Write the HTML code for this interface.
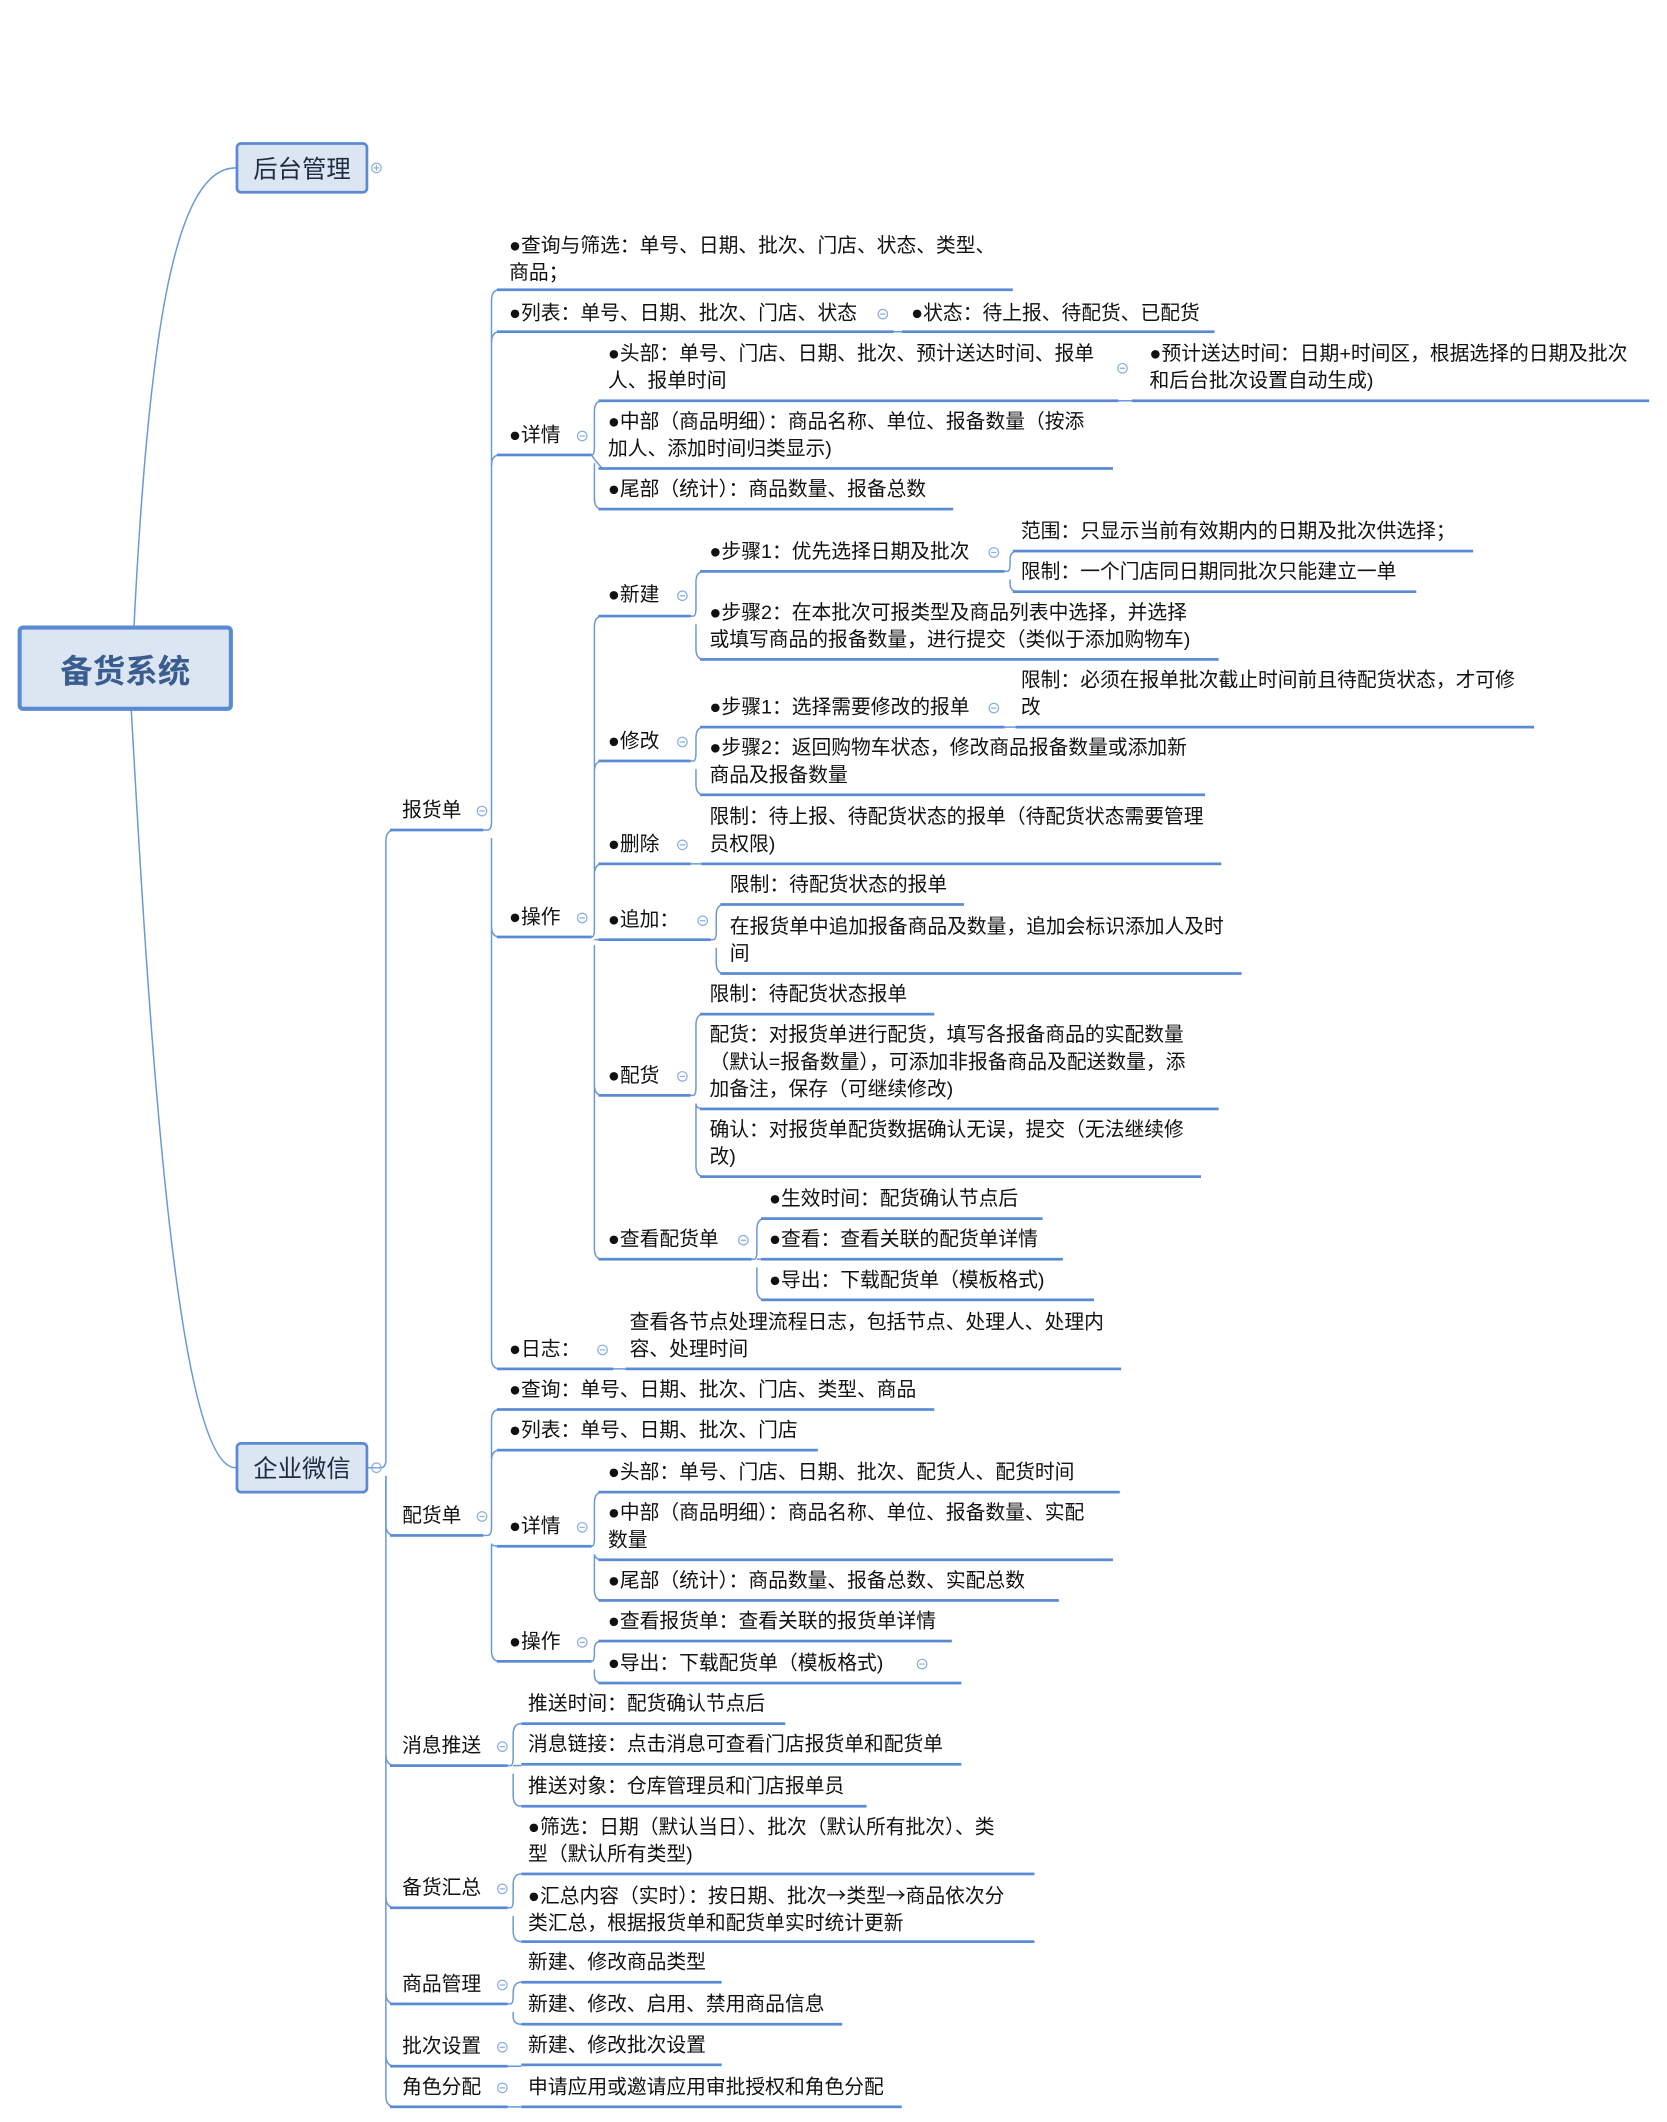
<!DOCTYPE html>
<html><head><meta charset="utf-8">
<style>
html,body{margin:0;padding:0;background:#fff;}
body{width:1667px;height:2121px;overflow:hidden;position:relative;}
#w{position:absolute;left:0;top:0;width:1231px;height:1567px;transform:scale(1.354);transform-origin:0 0;}
.t{position:absolute;white-space:nowrap;font-family:"Liberation Sans","Noto Sans CJK SC",sans-serif;font-size:14.6px;line-height:20px;color:#111;}
.u{position:absolute;height:2px;background:#5b8ad4;}
.b{position:absolute;background:#dce6f2;border:2px solid #5b8ad4;border-radius:4px;box-sizing:border-box;font-family:"Liberation Sans","Noto Sans CJK SC",sans-serif;color:#1e2c44;display:flex;align-items:center;justify-content:center;}
.a{font-family:"Noto Sans CJK SC",sans-serif;}
svg{position:absolute;left:0;top:0;}
</style></head><body><div id="w">
<svg width="1231" height="1567" viewBox="0 0 1231 1567" fill="none" stroke="#6b98d8" stroke-width="1.1">
<path d="M99,462 C110,240 130,124 174,124"/>
<path d="M97,525 C110,760 130,1084 174,1084"/>
<g>
<path d="M272,1084 H281 Q285,1084 285,1078 V621 Q285,613 292,613"/>
<path d="M285,1090 V1126 Q285,1134 292,1134"/>
<path d="M285,1090 V1548 Q285,1556 292,1556"/>
<path d="M285,1296 Q285,1304 292,1304 M285,1401 Q285,1409 292,1409 M285,1472 Q285,1480 292,1480 M285,1518 Q285,1526 292,1526"/>
<path d="M357,613 H360 Q363,613 363,607 V222 Q363,214 369,214"/>
<path d="M363,253 Q363,245 369,245 M363,344 Q363,336 369,336"/>
<path d="M363,619 V1003 Q363,1011 369,1011 M363,684 Q363,692 369,692"/>
<path d="M660,245 H666"/>
<path d="M437,336 Q439,336 439,330 V304 Q439,296 445,296 M439,342 V368 Q439,376 445,376 M437,336 Q439,340 445,346"/>
<path d="M826,296 H836"/>
<path d="M437,692 Q439,692 439,686 V463 Q439,455 445,455 M439,698 V922 Q439,930 445,930 M439,570 Q439,562 445,562 M439,646 Q439,638 445,638 M439,694 H445 M439,801 Q439,809 445,809"/>
<path d="M510,455 H512 Q514,455 514,449 V430 Q514,422 520,422 M514,461 V479 Q514,487 520,487"/>
<path d="M742,422 H744 Q746,422 746,416 V413 Q746,407 752,407 M746,428 V431 Q746,437 752,437"/>
<path d="M510,562 H512 Q514,562 514,556 V545 Q514,537 520,537 M514,568 V579 Q514,587 520,587"/>
<path d="M742,537 H750"/>
<path d="M510,638 H518"/>
<path d="M525,694 H527 Q529,694 529,688 V676 Q529,668 535,668 M529,700 V711 Q529,719 535,719"/>
<path d="M510,809 H512 Q514,809 514,803 V757 Q514,749 520,749 M514,815 V861 Q514,869 520,869 M514,815 Q514,819 520,819"/>
<path d="M555,930 H557 Q559,930 559,924 V908 Q559,900 565,900 M559,936 V952 Q559,960 565,960 M559,930 H565"/>
<path d="M453,1011 H462"/>
<path d="M357,1134 H360 Q363,1134 363,1128 V1049 Q363,1041 369,1041 M363,1079 Q363,1071 369,1071 M363,1140 V1219 Q363,1227 369,1227 M363,1140 Q363,1142 369,1142"/>
<path d="M437,1142 Q439,1142 439,1136 V1110 Q439,1102 445,1102 M439,1148 V1174 Q439,1182 445,1182 M439,1148 Q440,1152 445,1152"/>
<path d="M437,1227 Q439,1227 439,1221 V1218 Q439,1212 445,1212 M439,1233 V1237 Q439,1243 445,1243"/>
<path d="M375,1304 H377 Q379,1304 379,1298 V1281 Q379,1273 385,1273 M379,1310 V1326 Q379,1334 385,1334 M379,1304 H385"/>
<path d="M375,1409 H377 Q379,1409 379,1403 V1392 Q379,1384 385,1384 M379,1415 V1426 Q379,1434 385,1434"/>
<path d="M375,1480 H377 Q379,1480 379,1474 V1472 Q379,1464 385,1464 M379,1486 V1489 Q379,1495 385,1495"/>
<path d="M375,1526 H385 M375,1556 H385"/>
</g>
<g stroke="#8aaede" stroke-width="0.9">
<circle cx="278" cy="124" r="3.5"/><path d="M276,124 H280 M278,122 V126"/>
<circle cx="278" cy="1084" r="3.5"/><path d="M276,1084 H280"/>
<g>
<circle cx="356" cy="599" r="3.5"/><circle cx="652" cy="232" r="3.5"/><circle cx="430" cy="322" r="3.5"/>
<circle cx="829" cy="272" r="3.5"/><circle cx="430" cy="678" r="3.5"/><circle cx="504" cy="440" r="3.5"/>
<circle cx="734" cy="408" r="3.5"/><circle cx="504" cy="548" r="3.5"/><circle cx="734" cy="523" r="3.5"/>
<circle cx="504" cy="624" r="3.5"/><circle cx="519" cy="680" r="3.5"/><circle cx="504" cy="795" r="3.5"/>
<circle cx="549" cy="916" r="3.5"/><circle cx="445" cy="997" r="3.5"/><circle cx="356" cy="1120" r="3.5"/>
<circle cx="430" cy="1128" r="3.5"/><circle cx="430" cy="1213" r="3.5"/><circle cx="681" cy="1229" r="3.5"/>
<circle cx="371" cy="1290" r="3.5"/><circle cx="371" cy="1395" r="3.5"/><circle cx="371" cy="1466" r="3.5"/>
<circle cx="371" cy="1512" r="3.5"/><circle cx="371" cy="1542" r="3.5"/>
</g>
<path d="M354,599H358 M650,232H654 M428,322H432 M827,272H831 M428,678H432 M502,440H506 M732,408H736 M502,548H506 M732,523H736 M502,624H506 M517,680H521 M502,795H506 M547,916H551 M443,997H447 M354,1120H358 M428,1128H432 M428,1213H432 M679,1229H683 M369,1290H373 M369,1395H373 M369,1466H373 M369,1512H373 M369,1542H373"/>
</g>
</svg>

<div class="b" style="left:13px;top:462px;width:159px;height:63px;border-width:3px;font-size:24px;font-weight:bold;color:#3a5d8f;">备货系统</div>
<div class="b" style="left:174px;top:105px;width:98px;height:38px;font-size:18px;">后台管理</div>
<div class="b" style="left:174px;top:1065px;width:98px;height:38px;font-size:18px;">企业微信</div>

<div class="t" style="left:297px;top:589px">报货单</div><div class="u" style="left:288px;top:612px;width:69px"></div>
<div class="t" style="left:297px;top:1110px">配货单</div><div class="u" style="left:288px;top:1133px;width:69px"></div>
<div class="t" style="left:297px;top:1280px">消息推送</div><div class="u" style="left:288px;top:1303px;width:87px"></div>
<div class="t" style="left:297px;top:1385px">备货汇总</div><div class="u" style="left:288px;top:1408px;width:87px"></div>
<div class="t" style="left:297px;top:1456px">商品管理</div><div class="u" style="left:288px;top:1479px;width:87px"></div>
<div class="t" style="left:297px;top:1502px">批次设置</div><div class="u" style="left:288px;top:1525px;width:87px"></div>
<div class="t" style="left:297px;top:1532px">角色分配</div><div class="u" style="left:288px;top:1555px;width:87px"></div>

<div class="t" style="left:376px;top:172px">●查询与筛选：单号、日期、批次、门店、状态、类型、<br>商品；</div><div class="u" style="left:367px;top:213px;width:381px"></div>
<div class="t" style="left:376px;top:222px">●列表：单号、日期、批次、门店、状态</div><div class="u" style="left:367px;top:244px;width:293px"></div>
<div class="t" style="left:673px;top:222px">●状态：待上报、待配货、已配货</div><div class="u" style="left:666px;top:244px;width:231px"></div>
<div class="t" style="left:376px;top:312px">●详情</div><div class="u" style="left:367px;top:335px;width:70px"></div>
<div class="t" style="left:449px;top:252px">●头部：单号、门店、日期、批次、预计送达时间、报单<br>人、报单时间</div><div class="u" style="left:442px;top:295px;width:384px"></div>
<div class="t" style="left:849px;top:252px">●预计送达时间：日期+时间区，根据选择的日期及批次<br>和后台批次设置自动生成)</div><div class="u" style="left:836px;top:295px;width:382px"></div>
<div class="t" style="left:449px;top:302px">●中部（商品明细）：商品名称、单位、报备数量（按添<br>加人、添加时间归类显示)</div><div class="u" style="left:442px;top:345px;width:380px"></div>
<div class="t" style="left:449px;top:352px">●尾部（统计）：商品数量、报备总数</div><div class="u" style="left:442px;top:375px;width:262px"></div>

<div class="t" style="left:376px;top:668px">●操作</div><div class="u" style="left:367px;top:691px;width:70px"></div>
<div class="t" style="left:449px;top:430px">●新建</div><div class="u" style="left:442px;top:454px;width:68px"></div>
<div class="t" style="left:524px;top:398px">●步骤1：优先选择日期及批次</div><div class="u" style="left:517px;top:421px;width:225px"></div>
<div class="t" style="left:754px;top:383px">范围：只显示当前有效期内的日期及批次供选择；</div><div class="u" style="left:748px;top:406px;width:340px"></div>
<div class="t" style="left:754px;top:413px">限制：一个门店同日期同批次只能建立一单</div><div class="u" style="left:748px;top:436px;width:298px"></div>
<div class="t" style="left:524px;top:443px">●步骤2：在本批次可报类型及商品列表中选择，并选择<br>或填写商品的报备数量，进行提交（类似于添加购物车)</div><div class="u" style="left:517px;top:486px;width:383px"></div>

<div class="t" style="left:449px;top:538px">●修改</div><div class="u" style="left:442px;top:561px;width:68px"></div>
<div class="t" style="left:524px;top:513px">●步骤1：选择需要修改的报单</div><div class="u" style="left:517px;top:536px;width:225px"></div>
<div class="t" style="left:754px;top:493px">限制：必须在报单批次截止时间前且待配货状态，才可修<br>改</div><div class="u" style="left:750px;top:536px;width:383px"></div>
<div class="t" style="left:524px;top:543px">●步骤2：返回购物车状态，修改商品报备数量或添加新<br>商品及报备数量</div><div class="u" style="left:517px;top:586px;width:373px"></div>

<div class="t" style="left:449px;top:614px">●删除</div><div class="u" style="left:442px;top:637px;width:68px"></div>
<div class="t" style="left:524px;top:594px">限制：待上报、待配货状态的报单（待配货状态需要管理<br>员权限)</div><div class="u" style="left:518px;top:637px;width:384px"></div>

<div class="t" style="left:449px;top:670px">●追加：</div><div class="u" style="left:442px;top:693px;width:83px"></div>
<div class="t" style="left:539px;top:644px">限制：待配货状态的报单</div><div class="u" style="left:532px;top:667px;width:180px"></div>
<div class="t" style="left:539px;top:675px">在报货单中追加报备商品及数量，追加会标识添加人及时<br>间</div><div class="u" style="left:532px;top:718px;width:385px"></div>

<div class="t" style="left:449px;top:785px">●配货</div><div class="u" style="left:442px;top:808px;width:68px"></div>
<div class="t" style="left:524px;top:725px">限制：待配货状态报单</div><div class="u" style="left:517px;top:748px;width:173px"></div>
<div class="t" style="left:524px;top:755px">配货：对报货单进行配货，填写各报备商品的实配数量<br>（默认=报备数量），可添加非报备商品及配送数量，添<br>加备注，保存（可继续修改)</div><div class="u" style="left:517px;top:818px;width:383px"></div>
<div class="t" style="left:524px;top:825px">确认：对报货单配货数据确认无误，提交（无法继续修<br>改)</div><div class="u" style="left:517px;top:868px;width:370px"></div>

<div class="t" style="left:449px;top:906px">●查看配货单</div><div class="u" style="left:442px;top:929px;width:113px"></div>
<div class="t" style="left:568px;top:876px">●生效时间：配货确认节点后</div><div class="u" style="left:562px;top:899px;width:208px"></div>
<div class="t" style="left:568px;top:906px">●查看：查看关联的配货单详情</div><div class="u" style="left:562px;top:929px;width:223px"></div>
<div class="t" style="left:568px;top:936px">●导出：下载配货单（模板格式)</div><div class="u" style="left:562px;top:959px;width:246px"></div>

<div class="t" style="left:376px;top:987px">●日志：</div><div class="u" style="left:367px;top:1010px;width:86px"></div>
<div class="t" style="left:465px;top:967px">查看各节点处理流程日志，包括节点、处理人、处理内<br>容、处理时间</div><div class="u" style="left:462px;top:1010px;width:366px"></div>

<div class="t" style="left:376px;top:1017px">●查询：单号、日期、批次、门店、类型、商品</div><div class="u" style="left:367px;top:1040px;width:323px"></div>
<div class="t" style="left:376px;top:1047px">●列表：单号、日期、批次、门店</div><div class="u" style="left:367px;top:1070px;width:237px"></div>
<div class="t" style="left:376px;top:1118px">●详情</div><div class="u" style="left:367px;top:1141px;width:70px"></div>
<div class="t" style="left:449px;top:1078px">●头部：单号、门店、日期、批次、配货人、配货时间</div><div class="u" style="left:442px;top:1101px;width:385px"></div>
<div class="t" style="left:449px;top:1108px">●中部（商品明细）：商品名称、单位、报备数量、实配<br>数量</div><div class="u" style="left:442px;top:1151px;width:380px"></div>
<div class="t" style="left:449px;top:1158px">●尾部（统计）：商品数量、报备总数、实配总数</div><div class="u" style="left:442px;top:1181px;width:340px"></div>
<div class="t" style="left:376px;top:1203px">●操作</div><div class="u" style="left:367px;top:1226px;width:70px"></div>
<div class="t" style="left:449px;top:1188px">●查看报货单：查看关联的报货单详情</div><div class="u" style="left:442px;top:1211px;width:261px"></div>
<div class="t" style="left:449px;top:1219px">●导出：下载配货单（模板格式)</div><div class="u" style="left:442px;top:1242px;width:268px"></div>

<div class="t" style="left:390px;top:1249px">推送时间：配货确认节点后</div><div class="u" style="left:385px;top:1272px;width:195px"></div>
<div class="t" style="left:390px;top:1279px">消息链接：点击消息可查看门店报货单和配货单</div><div class="u" style="left:385px;top:1302px;width:325px"></div>
<div class="t" style="left:390px;top:1310px">推送对象：仓库管理员和门店报单员</div><div class="u" style="left:385px;top:1333px;width:255px"></div>
<div class="t" style="left:390px;top:1340px">●筛选：日期（默认当日）、批次（默认所有批次）、类<br>型（默认所有类型)</div><div class="u" style="left:385px;top:1383px;width:379px"></div>
<div class="t" style="left:390px;top:1390px">●汇总内容（实时）：按日期、批次<span class="a">→</span>类型<span class="a">→</span>商品依次分<br>类汇总，根据报货单和配货单实时统计更新</div><div class="u" style="left:385px;top:1433px;width:379px"></div>
<div class="t" style="left:390px;top:1440px">新建、修改商品类型</div><div class="u" style="left:385px;top:1463px;width:148px"></div>
<div class="t" style="left:390px;top:1471px">新建、修改、启用、禁用商品信息</div><div class="u" style="left:385px;top:1494px;width:237px"></div>
<div class="t" style="left:390px;top:1501px">新建、修改批次设置</div><div class="u" style="left:385px;top:1524px;width:148px"></div>
<div class="t" style="left:390px;top:1532px">申请应用或邀请应用审批授权和角色分配</div><div class="u" style="left:385px;top:1555px;width:281px"></div>
</div></body></html>
